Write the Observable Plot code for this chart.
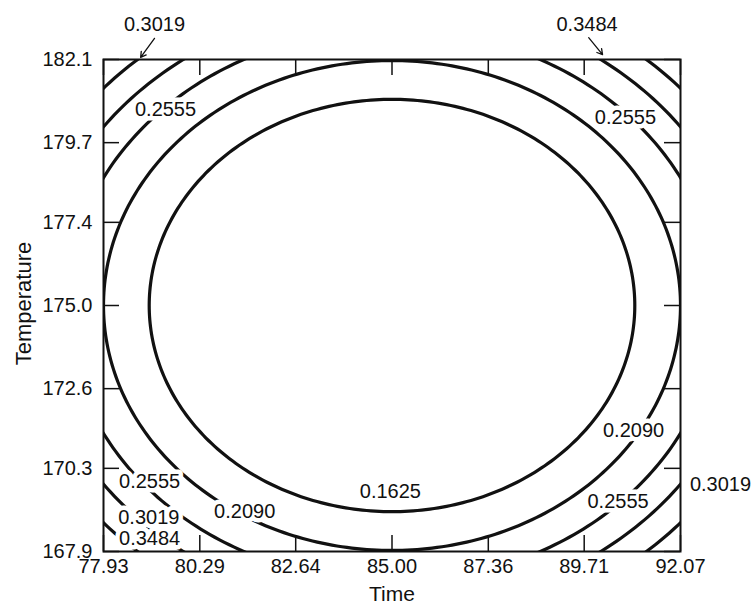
<!DOCTYPE html>
<html>
<head>
<meta charset="utf-8">
<script src="https://cdn.jsdelivr.net/npm/d3@7"></script>
<script src="https://cdn.jsdelivr.net/npm/@observablehq/plot@0.6"></script>
<style>
  html, body { margin: 0; padding: 0; background: #ffffff; overflow: hidden; }
  #chart svg { display: block; }
</style>
</head>
<body>
<div id="chart"></div>
<script>
// Contour levels of the prediction standard error and the radius (in coded
// units, 5 min / 5 deg per unit around the centre point) where each is reached.
const levels = [0.1625, 0.2090, 0.2555, 0.3019, 0.3484];
const radii = [1.19, 1.414, 1.595, 1.75, 1.89];

// Design centre and coded step
const centerTime = 85.0;
const centerTemp = 175.0;
const stepTime = 5.0;
const stepTemp = 5.0;

// Axis ticks
const timeTicks = [77.93, 80.29, 82.64, 85.00, 87.36, 89.71, 92.07];
const timeTickLabels = ["77.93", "80.29", "82.64", "85.00", "87.36", "89.71", "92.07"];
const tempTicks = [167.9, 170.3, 172.6, 175.0, 177.4, 179.7, 182.1];
const tempTickLabels = ["167.9", "170.3", "172.6", "175.0", "177.4", "179.7", "182.1"];

// Contour labels: which level, and where the label sits (Time, Temperature)
const labelLevel = [3, 4, 2, 2, 2, 3, 4, 1, 0, 1, 2, 3];
const labelTime = [79.18, 89.78, 79.45, 90.72, 79.06, 79.04, 79.06, 81.39, 84.96, 90.92, 90.54, 93.05];
const labelTemp = [183.10, 183.10, 180.64, 180.41, 169.91, 168.87, 168.26, 169.04, 169.63, 171.38, 169.33, 169.82];

// Leader arrows from the two labels above the frame
const arrowTime1 = [79.18, 89.82];
const arrowTemp1 = [182.71, 182.73];
const arrowTime2 = [78.84, 90.16];
const arrowTemp2 = [182.16, 182.24];

// Build each contour as a closed curve around the centre
const contourPts = [];
levels.forEach((lv, i) => {
  for (let a = 0; a <= 360; a += 1) {
    const t = a * Math.PI / 180;
    contourPts.push({
      level: lv,
      time: centerTime + stepTime * radii[i] * Math.cos(t),
      temp: centerTemp + stepTemp * radii[i] * Math.sin(t)
    });
  }
});

const labels = labelLevel.map((k, i) => ({
  text: levels[k].toFixed(4),
  time: labelTime[i],
  temp: labelTemp[i]
}));
const arrows = arrowTime1.map((d, i) => ({
  x1: d, y1: arrowTemp1[i], x2: arrowTime2[i], y2: arrowTemp2[i]
}));

const width = 753, height = 605;
const marginLeft = 103, marginRight = 73, marginTop = 59, marginBottom = 54;
const innerW = width - marginLeft - marginRight;
const innerH = height - marginTop - marginBottom;
const tickLen = 16;
const font = "Liberation Sans, Arial, Helvetica, sans-serif";
const ink = "#111111";

const fmtTime = d => timeTickLabels[timeTicks.indexOf(d)];
const fmtTemp = d => tempTickLabels[tempTicks.indexOf(d)];

const chart = Plot.plot({
  width, height, marginLeft, marginRight, marginTop, marginBottom,
  style: { fontFamily: font, background: "#ffffff", color: ink },
  x: { domain: [77.93, 92.07], axis: null },
  y: { domain: [167.9, 182.1], axis: null },
  marks: [
    Plot.line(contourPts, {
      x: "time", y: "temp", z: "level",
      stroke: ink, strokeWidth: 3.2, clip: true
    }),
    Plot.text(labels, {
      x: "time", y: "temp", text: "text",
      fontSize: 20, fill: ink, stroke: "#ffffff", strokeWidth: 9
    }),
    Plot.arrow(arrows, {
      x1: "x1", y1: "y1", x2: "x2", y2: "y2",
      stroke: ink, strokeWidth: 1.3, headLength: 7
    }),
    // inward ticks on all four sides
    Plot.tickX(timeTicks, { x: d => d, insetTop: innerH - tickLen, stroke: ink, strokeWidth: 1.5 }),
    Plot.tickX(timeTicks, { x: d => d, insetBottom: innerH - tickLen, stroke: ink, strokeWidth: 1.5 }),
    Plot.tickY(tempTicks, { y: d => d, insetRight: innerW - tickLen, stroke: ink, strokeWidth: 1.5 }),
    Plot.tickY(tempTicks, { y: d => d, insetLeft: innerW - tickLen, stroke: ink, strokeWidth: 1.5 }),
    Plot.frame({ stroke: ink, strokeWidth: 2 }),
    Plot.axisX({
      ticks: timeTicks, tickSize: 0, tickPadding: 7, tickFormat: fmtTime,
      fontSize: 20, fill: ink, label: null
    }),
    Plot.axisY({
      ticks: tempTicks, tickSize: 0, tickPadding: 11, tickFormat: fmtTemp,
      fontSize: 20, fill: ink, label: null
    }),
    Plot.text(["Time"], {
      frameAnchor: "bottom", lineAnchor: "middle", textAnchor: "middle",
      dy: 43, text: d => d, fontSize: 21, fill: ink
    }),
    Plot.text(["Temperature"], {
      frameAnchor: "left", lineAnchor: "middle", textAnchor: "middle",
      dx: -80, dy: -2, rotate: -90, text: d => d, fontSize: 22, fill: ink
    })
  ]
});

document.getElementById("chart").appendChild(chart);
</script>
</body>
</html>
